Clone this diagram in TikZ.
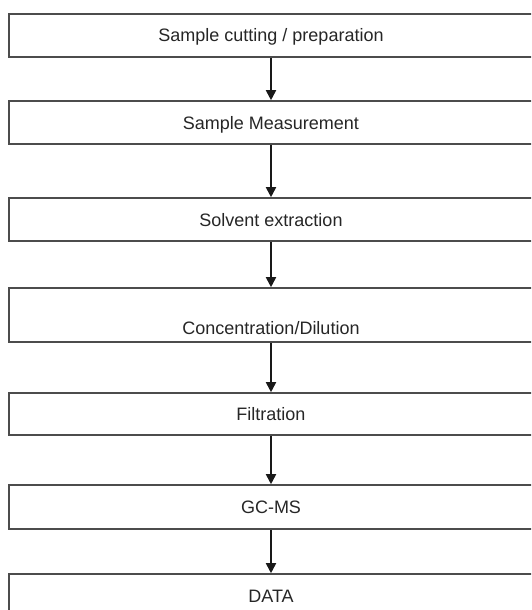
\documentclass[tikz,border=0pt]{standalone}
\usepackage{fontspec}
\setmainfont{Liberation Sans}
\usetikzlibrary{arrows.meta}
\tikzset{
	stepbox/.style={draw=black!70, line width=1.6pt, minimum width=524pt, minimum height=43pt,
		inner xsep=0pt, inner ysep=0pt, text height=13pt, text depth=0pt,
		text=black!85, font=\fontsize{18}{21}\selectfont},
	flow/.style={draw=black!90, line width=1.8pt, -{Triangle[width=10pt, length=10pt]}}
}

\begin{document}
\begin{tikzpicture}[x=1pt, y=-1pt]
		%%%%% START %%%%%
		
		\useasboundingbox (0, 0) rectangle (531, 610);
		\clip (0, 0) rectangle (531, 610);
		
		\node[stepbox] (cut) at (271, 35.5) {Sample cutting / preparation};
		\node[stepbox] (meas) at (271, 122.5) {Sample Measurement};
		\node[stepbox] (extr) at (271, 219.5) {Solvent extraction};
		\node[stepbox, minimum height=54pt, inner ysep=7.5pt, text height=39pt] (conc) at (271, 315) {Concentration/Dilution};
		\node[stepbox, minimum height=42pt] (filt) at (271, 414) {Filtration};
		\node[stepbox, minimum height=44pt] (gcms) at (271, 507) {GC-MS};
		\node[stepbox] (data) at (271, 595.5) {DATA};
		
		\draw[flow] (cut) -- (meas);
		\draw[flow] (meas) -- (extr);
		\draw[flow] (extr) -- (conc);
		\draw[flow] (conc) -- (filt);
		\draw[flow] (filt) -- (gcms);
		\draw[flow] (gcms) -- (data);
		
		%%%%% END %%%%%
	\end{tikzpicture}
\end{document}
